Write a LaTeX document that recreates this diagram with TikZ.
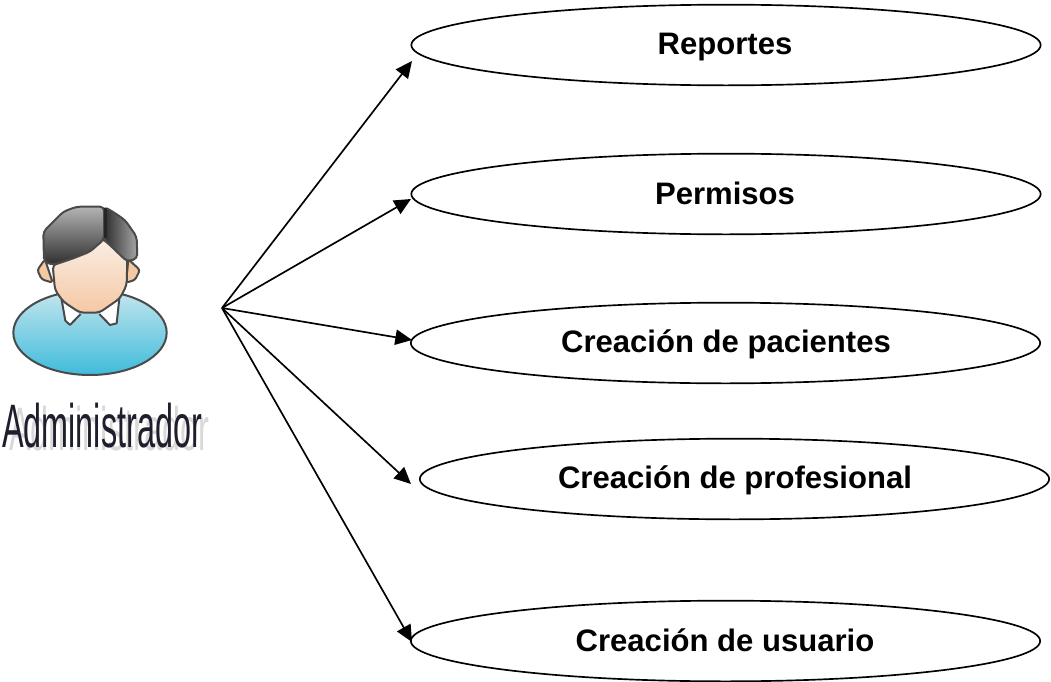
\documentclass[tikz,border=0pt]{standalone}
\usepackage{fontspec}
\setmainfont{Liberation Sans}
\usetikzlibrary{shapes.geometric,arrows.meta}
\definecolor{outl}{HTML}{4A4A4A}
\definecolor{bodytop}{HTML}{C4E6EE}
\definecolor{bodybot}{HTML}{3FBBDB}
\definecolor{facetop}{HTML}{FAEEE4}
\definecolor{facebot}{HTML}{F5C8A4}
\definecolor{hairlight}{HTML}{B4B4B4}
\definecolor{hairdark}{HTML}{2E2E2E}
\definecolor{actortext}{HTML}{1E1E2C}
\tikzset{
  usecase/.style={draw=black,line width=1.25pt,ellipse,inner sep=0pt,minimum width=472pt,minimum height=60.5pt,fill=white},
  lab/.style={inner sep=0pt,anchor=base,font=\fontsize{23.3}{28}\selectfont\bfseries,text=black},
  conn/.style={draw=black,line width=1.25pt,-{Triangle[length=12.5pt,width=11.5pt]}},
  avatar/.style={draw=outl,line width=1.5pt,line join=round},
  actorlab/.style={inner sep=0pt,anchor=base}
}
\newcommand{\actorname}{\scalebox{0.528}[1]{\fontsize{46}{52}\selectfont Administrador}}
\begin{document}
\begin{tikzpicture}[x=0.75pt,y=-0.75pt]
\useasboundingbox (0,0) rectangle (1051,682);
\node[usecase] (e1) at (726,45) {};
\node[usecase] (e2) at (726,194) {};
\node[usecase] (e3) at (725.5,343) {};
\node[usecase] (e4) at (734.5,479) {};
\node[usecase] (e5) at (725.5,641) {};
\node[lab] (t1) at (725,54) {Reportes};
\node[lab] (t2) at (725,204) {Permisos};
\node[lab] (t3) at (726,352) {Creación de pacientes};
\node[lab] (t4) at (735,488) {Creación de profesional};
\node[lab] (t5) at (725,651) {Creación de usuario};
\coordinate (hub) at (222,308);
\coordinate (a1) at (412,61);
\coordinate (a2) at (411,199);
\coordinate (a3) at (412,340);
\coordinate (a4) at (411,484);
\coordinate (a5) at (412,642);
\draw[conn] (hub) -- (a1);
\draw[conn] (hub) -- (a2);
\draw[conn] (hub) -- (a3);
\draw[conn] (hub) -- (a4);
\draw[conn] (hub) -- (a5);
% person
\begin{scope}[shift={(0,190)},x=0.25pt,y=-0.25pt]
\draw[avatar,top color=bodytop,bottom color=bodybot] (270,428) ellipse [x radius=230,y radius=127];
\fill[white] (190,338) -- (196,392) -- (210,405) -- (242,375) -- cycle;
\fill[white] (355,330) -- (350,400) -- (330,405) -- (298,372) -- cycle;
\draw[avatar] (185,330) -- (196,392) -- (210,405) -- (242,372);
\draw[avatar] (358,325) -- (350,400) -- (330,405) -- (298,372);
\draw[avatar,fill=facebot,rounded corners=2pt] (135,208) -- (112,240) -- (125,268) -- (158,278) -- cycle;
\draw[avatar,fill=facebot,rounded corners=2pt] (385,208) -- (420,240) -- (405,270) -- (378,278) -- cycle;
\draw[avatar,top color=facetop,bottom color=facebot,rounded corners=3pt] (158,225) -- (165,300) -- (190,335) -- (240,368) -- (298,368) -- (360,325) -- (380,285) -- (382,205) -- (305,145) -- (240,195) -- cycle;
\draw[avatar,top color=hairlight,bottom color=hairdark,rounded corners=3pt] (132,215) -- (130,125) -- (190,65) -- (230,50) -- (312,50) -- (312,148) -- (270,185) -- (220,205) -- (160,225) -- cycle;
\draw[avatar,left color=hairdark,right color=gray!70,rounded corners=3pt] (312,50) -- (338,65) -- (375,90) -- (410,140) -- (412,205) -- (382,215) -- (345,180) -- (312,148) -- cycle;
\draw[line width=2.5pt,black!85] (316,55) -- (316,145);
\end{scope}
% text with shadow
\node[actorlab,text=gray!30] (shadow) at (109,450) {\actorname};
\node[actorlab,text=actortext] (actor) at (102,447) {\actorname};
\end{tikzpicture}
\end{document}
